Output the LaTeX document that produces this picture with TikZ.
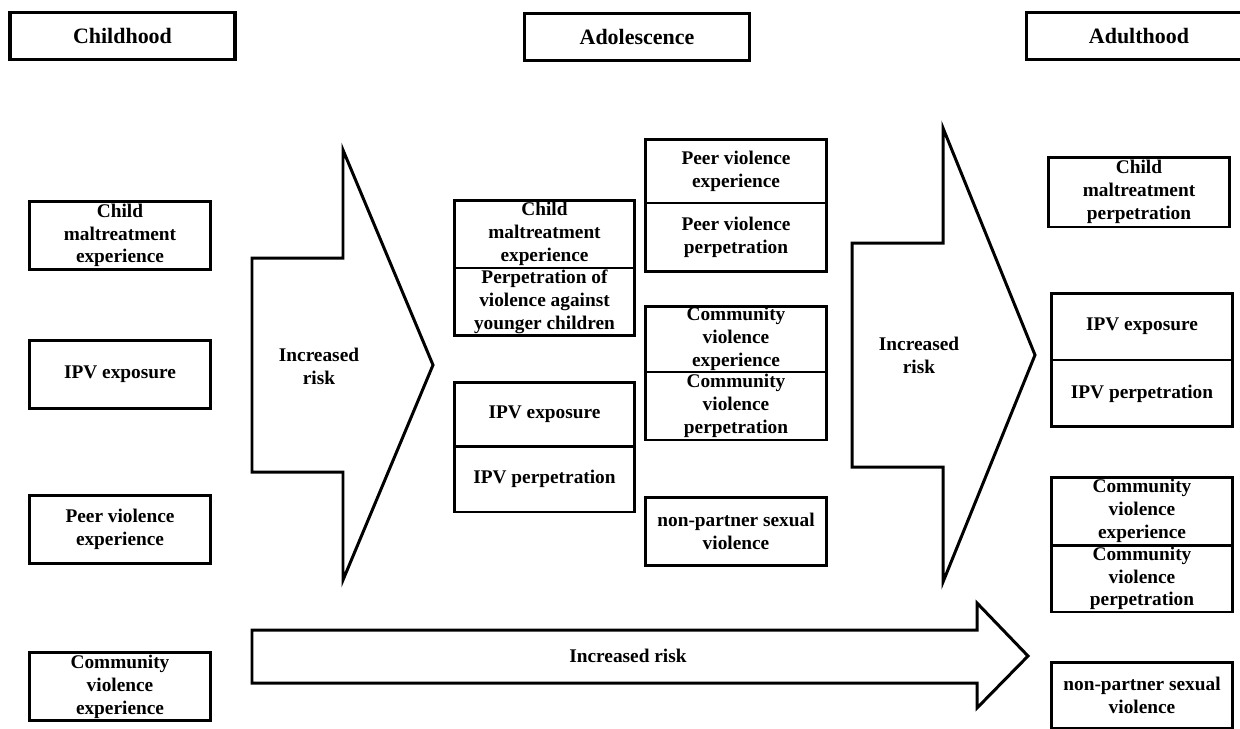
\documentclass[tikz,border=0pt]{standalone}
\usepackage{fontspec}
\setmainfont{Liberation Serif}
\usepackage{tikz}
\usetikzlibrary{positioning}

\tikzset{
  stagebox/.style={draw,line width=1.9pt,outer sep=0pt,inner sep=0pt,
    minimum width=4.5cm,minimum height=0.94cm,
    font=\fontsize{12.5}{15}\selectfont\bfseries},
  riskbox/.style={draw,line width=1.7pt,outer sep=0pt,inner sep=0pt,
    minimum width=3.62cm,minimum height=1.36cm,align=center,
    font=\fontsize{11}{13}\selectfont\bfseries},
  arrowshape/.style={draw,line width=1.7pt,line join=miter},
  risklabel/.style={align=center,font=\fontsize{11}{13}\selectfont\bfseries}
}

\begin{document}
\begin{tikzpicture}[x=0.02cm,y=-0.02cm]
  \useasboundingbox (0,0) rectangle (1240,728);

  % stages
  \node[stagebox] (child) at (122.5,36) {Childhood};
  \node[stagebox] (adol) at (637,37) {Adolescence};
  \node[stagebox] (adult) at (1139,36) {Adulthood};

  % childhood
  \node[riskbox] (cmExp) at (120,235.5) {Child\\maltreatment\\experience};
  \node[riskbox] (ipvExp) at (120,374.5) {IPV exposure};
  \node[riskbox] (peerExp) at (120,529) {Peer violence\\experience};
  \node[riskbox] (commExp) at (120,686.5) {Community\\violence\\experience};

  % adolescence
  \node[riskbox] (aCmExp) at (544.5,234) {Child\\maltreatment\\experience};
  \node[riskbox,below=0pt of aCmExp] (aPerp) {Perpetration of\\violence against\\younger children};
  \node[riskbox,minimum height=1.28cm] (aIpvExp) at (544.5,414) {IPV exposure};
  \node[riskbox,minimum height=1.32cm,below=0pt of aIpvExp] (aIpvPerp) {IPV perpetration};
  \node[riskbox,minimum height=1.28cm] (aPeerExp) at (736,171) {Peer violence\\experience};
  \node[riskbox,minimum height=1.38cm,below=0pt of aPeerExp] (aPeerPerp) {Peer violence\\perpetration};
  \node[riskbox,minimum height=1.32cm] (aCommExp) at (736,339) {Community\\violence\\experience};
  \node[riskbox,below=0pt of aCommExp] (aCommPerp) {Community\\violence\\perpetration};
  \node[riskbox] (aNps) at (736,531) {non-partner sexual\\violence};

  % adulthood
  \node[riskbox,minimum height=1.4cm] (dCmPerp) at (1139,192) {Child\\maltreatment\\perpetration};
  \node[riskbox,minimum height=1.34cm] (dIpvExp) at (1142,326.5) {IPV exposure};
  \node[riskbox,minimum height=1.34cm,below=0pt of dIpvExp] (dIpvPerp) {IPV perpetration};
  \node[riskbox] (dCommExp) at (1142,511) {Community\\violence\\experience};
  \node[riskbox,minimum height=1.34cm,below=0pt of dCommExp] (dCommPerp) {Community\\violence\\perpetration};
  \node[riskbox,minimum height=1.32cm] (dNps) at (1142,695) {non-partner sexual\\violence};

  % block arrows
  \draw[arrowshape] (252,258) -- (343,258) -- (343,150) -- (433,365)
    -- (343,580) -- (343,472) -- (252,472) -- cycle;
  \node[risklabel] (riskA) at (319,366) {Increased\\risk};
  \draw[arrowshape] (852,243) -- (943,243) -- (943,128) -- (1035,355)
    -- (943,582) -- (943,467) -- (852,467) -- cycle;
  \node[risklabel] (riskB) at (919,355) {Increased\\risk};
  \draw[arrowshape] (252,630) -- (977,630) -- (977,603) -- (1028,656)
    -- (977,708) -- (977,683) -- (252,683) -- cycle;
  \node[risklabel] (riskC) at (628,656) {Increased risk};
\end{tikzpicture}
\end{document}
